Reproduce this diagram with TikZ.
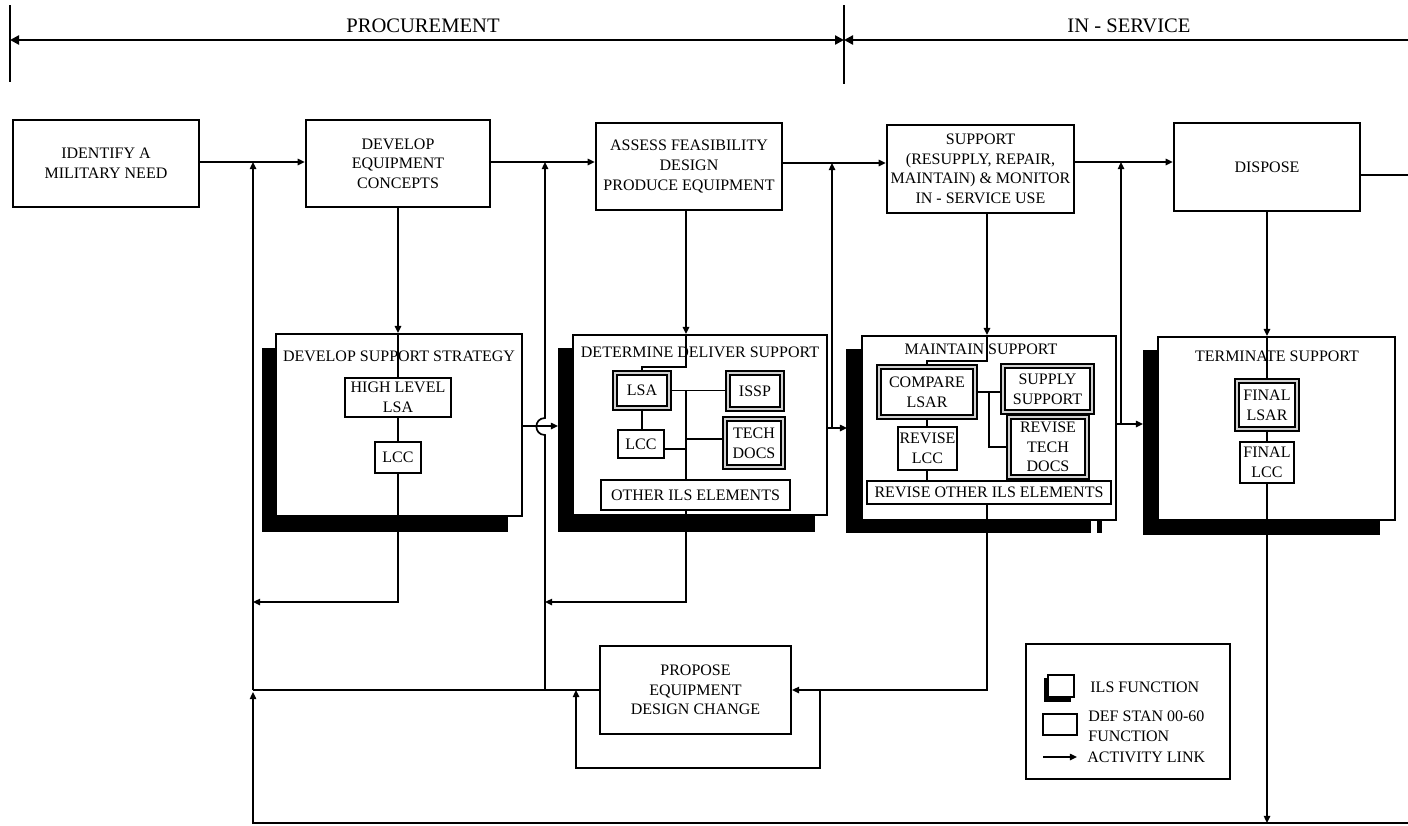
\documentclass[tikz,border=0pt]{standalone}
\usepackage{fontspec}
\setmainfont{Liberation Serif}
\usetikzlibrary{arrows.meta}
\begin{document}
\begin{tikzpicture}[x=0.5pt,y=-0.5pt,
  every node/.style={font=\fontsize{8}{9.8}\selectfont},
  mb/.style n args={4}{minimum width={(#3-#1)*0.5pt}, minimum height={(#4-#2)*0.5pt}, at={({(#1+#3)/2},{(#2+#4)/2})}},
  box/.style={draw, line width=1pt, fill=white, inner sep=0pt, align=center},
  dbox/.style={box, line width=0.9pt, double=gray!35, double distance=0.9pt},
  frame/.style={draw, line width=0.9pt, fill=white, inner sep=0pt},
  conn/.style={line width=0.85pt},
  arr/.style={conn, -{Triangle[length=3.6pt,width=3.2pt]}},
  hdr/.style={line width=1.4pt},
  vline/.style={line width=0.6pt},
  hfont/.style={font=\fontsize{10.3}{12}\selectfont},
  ttl/.style={inner sep=0pt}
]
\useasboundingbox (0,0) rectangle (1408,825);

% ---------------- header
\draw[vline] (10,5) -- (10,82);
\draw[vline] (844,5) -- (844,84);
\coordinate (hl) at (10,40);
\coordinate (hm) at (844,40);
\coordinate (hr) at (1408,40);
\draw[hdr, {Triangle[length=4.5pt,width=4.5pt]}-{Triangle[length=4.5pt,width=4.5pt]}] (hl) -- (hm);
\draw[hdr, {Triangle[length=4.5pt,width=4.5pt]}-] (hm) -- (hr);
\node[hfont] (proc) at (423,26) {PROCUREMENT};
\node[hfont] (insv) at (1129,26) {IN - SERVICE};

% ---------------- top row
\node[box, line width=1.1pt, mb={13}{120}{199}{207}] (n1) {IDENTIFY A\\MILITARY NEED};
\node[box, line width=1.1pt, mb={306}{120}{490}{207}] (n2) {DEVELOP\\EQUIPMENT\\CONCEPTS};
\node[box, line width=1.1pt, mb={596}{123}{782}{210}] (n3) {ASSESS FEASIBILITY\\DESIGN\\PRODUCE EQUIPMENT};
\node[box, line width=1.1pt, mb={887}{125}{1074}{213}] (n4) {SUPPORT\\(RESUPPLY, REPAIR,\\MAINTAIN) \& MONITOR\\IN - SERVICE USE};
\node[box, line width=1.1pt, mb={1174}{123}{1360}{211}] (n5) {DISPOSE};

% ---------------- shadows and frames
\fill (262,348) rectangle (508,532);
\fill (558,348) rectangle (815,532);
\fill (846,349) rectangle (1091,533);
\fill (1097,520) rectangle (1102,533);
\fill (1143,350) rectangle (1380,535);
\node[frame, mb={276}{334}{522}{516}] (dss) {};
\node[frame, mb={573}{335}{827}{515}] (dds) {};
\node[frame, mb={862}{336}{1116}{520}] (ms) {};
\node[frame, mb={1158}{337}{1395}{520}] (ts) {};
\node[ttl] (dsst) at (399,356) {DEVELOP SUPPORT STRATEGY};
\node[ttl] (ddst) at (700,352) {DETERMINE DELIVER SUPPORT};
\node[ttl] (mst) at (981,349) {MAINTAIN SUPPORT};
\node[ttl] (tst) at (1277,356) {TERMINATE SUPPORT};

% ---------------- named junctions
\coordinate (fbA) at (253,162);
\coordinate (fbB) at (545,162);
\coordinate (fbC) at (832,163);
\coordinate (fbD) at (1121,162);
\coordinate (fbL) at (253,690);
\coordinate (fbM) at (545,690);
\coordinate (botL) at (253,823);
\coordinate (botR) at (1408,823);
\coordinate (dispR) at (1408,175);
\coordinate (inD) at (686,367);
\coordinate (inM) at (987,361);

% ---------------- top row connectors
\draw[arr] (n1.east |- fbA) -- (n2.west |- fbA);
\draw[arr] (n2.east |- fbB) -- (n3.west |- fbB);
\draw[arr] (n3.east |- fbC) -- (n4.west |- fbC);
\draw[arr] (n4.east |- fbD) -- (n5.west |- fbD);
\draw[conn] (n5.east |- dispR) -- (dispR);

% down into frames
\draw[arr] (n2.south) -- (n2.south |- dss.north);
\draw[arr] (n3.south -| inD) -- (inD |- dds.north);
\draw[arr] (n4.south -| inM) -- (inM |- ms.north);
\draw[arr] (n5.south) -- (n5.south |- ts.north);

% frame to frame
\draw[arr] (dss.east |- 0,426) -- (558,426);
\draw[arr] (dds.east |- 0,428) -- (847,428);
\draw[arr] (ms.east |- 0,424) -- (1143,424);
\draw[arr] (fbC |- 0,428) -- (fbC);
\draw[arr] (fbD |- 0,424) -- (fbD);

% feedback verticals
\draw[arr] (fbL) -- (fbA);
\draw[arr] (fbM) -- (545,435) .. controls (533.5,435) and (533.5,418) .. (545,418) -- (fbB);

% ---------------- inner boxes
\node[box, mb={345}{378}{451}{417}] (hlsa) {HIGH LEVEL\\LSA};
\node[box, mb={375}{442}{421}{473}] (lcc1) {LCC};

\node[dbox, mb={615}{373}{669}{408}] (lsa2) {LSA};
\node[dbox, mb={728}{373}{782}{409}] (issp) {ISSP};
\node[box, mb={618}{430}{664}{458}] (lcc2) {LCC};
\node[dbox, mb={725}{419}{783}{467}] (tech) {TECH\\DOCS};
\node[box, mb={601}{480}{790}{510}] (other) {OTHER ILS ELEMENTS};

\node[dbox, mb={879}{367}{975}{417}] (cmp) {COMPARE\\LSAR};
\node[dbox, mb={1003}{366}{1092}{412}] (sup) {SUPPLY\\SUPPORT};
\node[box, mb={898}{427}{957}{470}] (rlcc) {REVISE\\LCC};
\node[dbox, mb={1009}{417}{1087}{477}] (rtech) {REVISE\\TECH\\DOCS};
\node[box, mb={867}{481}{1111}{504}] (rother) {REVISE OTHER ILS ELEMENTS};

\node[dbox, mb={1237}{381}{1297}{429}] (flsar) {FINAL\\LSAR};
\node[box, mb={1240}{442}{1294}{483}] (flcc) {FINAL\\LCC};

\node[box, mb={600}{646}{791}{734}] (prop) {PROPOSE\\EQUIPMENT\\DESIGN CHANGE};

% ---------------- inner connectors: DSS
\draw[conn] (n2.south |- dss.north) -- (hlsa.north);
\draw[conn] (hlsa.south) -- (lcc1.north);
\draw[arr] (lcc1.south) -- (lcc1.south |- 0,602) -- (fbA |- 0,602);

% DDS
\draw[conn] (inD |- dds.north) -- (inD) -- (lsa2.north |- inD) -- (lsa2.north);
\draw[conn] (lsa2.east) -- (issp.west |- lsa2.east);
\draw[conn] (lsa2.south) -- (lsa2.south |- lcc2.north);
\draw[conn] (686,391) -- (other.north -| 686,0);
\draw[conn] (lcc2.east |- 0,449) -- (686,449);
\draw[conn] (686,439) -- (tech.west |- 0,439);
\draw[arr] (other.south -| 686,0) -- (686,602) -- (fbB |- 0,602);

% MS
\draw[conn] (inM |- ms.north) -- (inM) -- (cmp.north |- inM) -- (cmp.north);
\draw[conn] (cmp.east) -- (sup.west |- cmp.east);
\draw[conn] (989,392) -- (989,447) -- (rtech.west |- 0,447);
\draw[conn] (cmp.south) -- (cmp.south |- rlcc.north);
\draw[conn] (cmp.south |- rlcc.south) -- (cmp.south |- rother.north);
\draw[arr] (rother.south -| inM) -- (inM |- prop.east) -- (prop.east);
\draw[arr] (820,690) -- (820,768) -- (576,768) -- (576,690);

% TS
\draw[conn] (n5.south |- ts.north) -- (flsar.north);
\draw[conn] (flsar.south) -- (flsar.south |- flcc.north);
\draw[arr] (flsar.south |- flcc.south) -- (flsar.south |- botR);

% feedback bottom
\draw[conn] (prop.west) -- (fbL);
\draw[arr] (botR) -- (botL) -- (253,692);

% ---------------- legend
\node[draw, line width=1pt, inner sep=0pt, mb={1026}{644}{1230}{779}] (leg) {};
\fill (1044,678) rectangle (1071,702);
\node[draw, line width=1pt, fill=white, inner sep=0pt, mb={1048}{675}{1074}{697}] (lgi) {};
\node[draw, line width=1pt, inner sep=0pt, mb={1043}{714}{1077}{735}] (lgd) {};
\node[anchor=west, inner sep=0pt] (lt1) at (1090,687) {ILS FUNCTION};
\node[anchor=west, inner sep=0pt, align=left] (lt2) at (1088,726) {DEF STAN 00-60\\FUNCTION};
\node[anchor=west, inner sep=0pt] (lt3) at (1087,757) {ACTIVITY LINK};
\coordinate (la) at (1043,757);
\draw[arr] (la) -- (lt3.west -| 1077,0);
\end{tikzpicture}
\end{document}
